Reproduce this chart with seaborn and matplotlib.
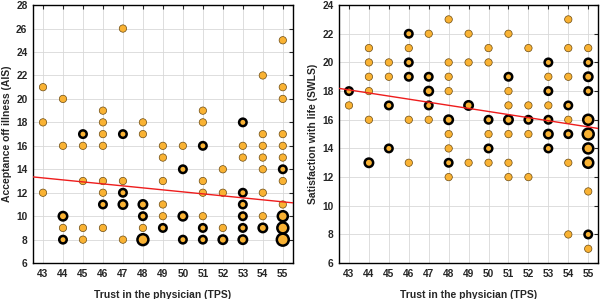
import matplotlib
matplotlib.use("Agg")
import matplotlib.pyplot as plt
import numpy as np
import pandas as pd
import seaborn as sns

# Trust in the physician (x) vs. AIS, with number of patients per point
ais_tps = [43, 43, 43,
           44, 44, 44, 44, 44,
           45, 45, 45, 45, 45,
           46, 46, 46, 46, 46, 46, 46, 46,
           47, 47, 47, 47, 47, 47,
           48, 48, 48, 48, 48, 48,
           49, 49, 49, 49, 49, 49,
           50, 50, 50, 50,
           51, 51, 51, 51, 51, 51, 51, 51,
           52, 52, 52, 52,
           53, 53, 53, 53, 53, 53, 53, 53,
           54, 54, 54, 54, 54, 54, 54, 54,
           55, 55, 55, 55, 55, 55, 55, 55, 55, 55, 55, 55]
ais_val = [21, 18, 12,
           20, 16, 10, 9, 8,
           17, 16, 13, 9, 8,
           19, 18, 17, 16, 13, 12, 11, 9,
           26, 17, 13, 12, 11, 8,
           18, 17, 11, 10, 9, 8,
           16, 15, 13, 11, 10, 9,
           16, 14, 10, 8,
           19, 18, 16, 13, 12, 10, 9, 8,
           14, 12, 9, 8,
           18, 16, 15, 12, 11, 10, 9, 8,
           22, 17, 16, 15, 14, 12, 10, 9,
           25, 21, 20, 17, 16, 15, 14, 13, 11, 10, 9, 8]
ais_n = [1, 1, 1,
         1, 1, 3, 1, 2,
         2, 1, 1, 1, 1,
         1, 1, 1, 1, 1, 1, 2, 1,
         1, 2, 1, 2, 3, 1,
         1, 1, 3, 2, 1, 5,
         1, 1, 1, 1, 1, 2,
         1, 2, 3, 2,
         1, 1, 2, 1, 1, 1, 2, 2,
         1, 1, 1, 3,
         2, 1, 1, 2, 2, 2, 2, 3,
         1, 1, 1, 1, 1, 1, 1, 3,
         1, 1, 1, 1, 1, 1, 2, 1, 1, 4, 5, 6]

# Trust in the physician (x) vs. SWLS
swls_tps = [43, 43,
            44, 44, 44, 44, 44, 44,
            45, 45, 45, 45,
            46, 46, 46, 46, 46, 46,
            47, 47, 47, 47, 47,
            48, 48, 48, 48, 48, 48, 48, 48, 48,
            49, 49, 49, 49,
            50, 50, 50, 50, 50, 50,
            51, 51, 51, 51, 51, 51, 51, 51,
            52, 52, 52, 52, 52,
            53, 53, 53, 53, 53, 53, 53,
            54, 54, 54, 54, 54, 54, 54, 54,
            55, 55, 55, 55, 55, 55, 55, 55, 55, 55, 55]
swls_val = [18, 17,
            21, 20, 19, 18, 16, 13,
            20, 19, 17, 14,
            22, 21, 20, 19, 16, 13,
            22, 19, 18, 17, 16,
            23, 20, 19, 18, 16, 15, 14, 13, 12,
            22, 20, 17, 13,
            21, 20, 16, 15, 14, 13,
            22, 19, 18, 17, 16, 15, 13, 12,
            21, 17, 16, 15, 12,
            20, 19, 18, 17, 16, 15, 14,
            23, 21, 19, 17, 16, 15, 13, 8,
            21, 20, 19, 18, 16, 15, 14, 13, 11, 8, 7]
swls_n = [2, 1,
          1, 1, 1, 1, 1, 3,
          1, 1, 2, 2,
          2, 1, 2, 2, 1, 1,
          1, 2, 3, 2, 1,
          1, 1, 1, 1, 3, 1, 1, 2, 1,
          1, 1, 3, 1,
          1, 1, 2, 1, 2, 1,
          1, 2, 1, 1, 3, 1, 1, 1,
          1, 1, 2, 1, 1,
          2, 1, 2, 1, 2, 3, 2,
          1, 1, 1, 2, 1, 2, 1, 1,
          1, 2, 3, 2, 4, 5, 4, 4, 1, 2, 1]

# regression lines: (value at TPS=42.5, slope)
ais_fit = (13.35, -0.170)
swls_fit = (18.19, -0.215)

tps_ticks = list(range(43, 56))

sns.set_style("white")
plt.rcParams["font.family"] = ["Liberation Sans", "DejaVu Sans"]
plt.rcParams["font.weight"] = "bold"

fill = "#F9B233"
size_map = {1: 28, 2: 29, 3: 37, 4: 52, 5: 62, 6: 74}

fig = plt.figure(figsize=(6.0, 2.99), dpi=100)
ax1 = fig.add_axes([0.055, 0.12, 0.433, 0.863])
ax2 = fig.add_axes([0.565, 0.12, 0.432, 0.863])


def draw_panel(ax, tps, val, n, fit, ylim, yticks, ylabel):
    df = pd.DataFrame({"tps": tps, "val": val, "n": n})
    ax.set_axisbelow(True)
    ax.grid(True, color="#d8d8d8", linewidth=0.6)
    single = df[df["n"] == 1]
    multi = df[df["n"] > 1]
    sns.scatterplot(data=single, x="tps", y="val", size="n", sizes=size_map,
                    color=fill, edgecolor="#6b4a10", linewidth=0.5,
                    legend=False, ax=ax, zorder=3)
    sns.scatterplot(data=multi, x="tps", y="val", size="n", sizes=size_map,
                    color=fill, edgecolor="black", linewidth=1.8,
                    legend=False, ax=ax, zorder=4)
    xs = np.array([42.5, 55.5])
    ax.plot(xs, fit[0] + fit[1] * (xs - 42.5), color="#ee1c1c", linewidth=1.0, zorder=5)
    ax.set_xlim(42.5, 55.5)
    ax.set_ylim(*ylim)
    ax.set_xticks(tps_ticks)
    ax.set_yticks(yticks)
    ax.tick_params(direction="in", length=3, width=0.8, labelsize=7.3,
                   top=True, right=True, pad=4)
    for lab in ax.get_xticklabels() + ax.get_yticklabels():
        lab.set_fontweight("bold")
    for s in ax.spines.values():
        s.set_color("black")
        s.set_linewidth(1.0)
    ax.set_xlabel("Trust in the physician (TPS)", fontsize=7.5, fontweight="bold", labelpad=8)
    ax.set_ylabel(ylabel, fontsize=7.5, fontweight="bold", labelpad=3)


draw_panel(ax1, ais_tps, ais_val, ais_n, ais_fit, (6, 28), range(6, 29, 2),
           "Acceptance off illness (AIS)")
draw_panel(ax2, swls_tps, swls_val, swls_n, swls_fit, (6, 24), range(6, 25, 2),
           "Satisfaction with life (SWLS)")

fig.savefig("out.png", dpi=100)
